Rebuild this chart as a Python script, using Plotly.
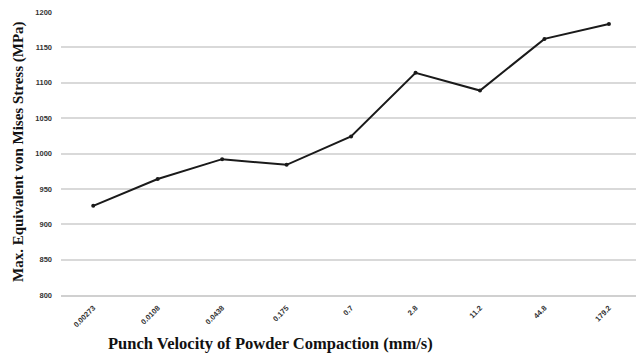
import plotly.graph_objects as go

# Punch velocity categories (mm/s) and peak equivalent stress (MPa)
velocity_labels = ["0.00273", "0.0108", "0.0438", "0.175", "0.7", "2.8", "11.2", "44.8", "179.2"]
max_stress = [926, 964, 992, 984, 1024, 1114, 1089, 1162, 1183]
y_ticks = [800, 850, 900, 950, 1000, 1050, 1100, 1150, 1200]

W, H = 636, 354
L, T, B = 61, 12, 59
plot_h = H - T - B

fig = go.Figure()
fig.add_trace(go.Scatter(
    x=list(range(len(velocity_labels))),
    y=max_stress,
    mode="lines+markers",
    line=dict(color="#1a1a1a", width=2),
    marker=dict(color="#1a1a1a", size=4),
    showlegend=False,
    hoverinfo="skip",
))

tick_font = dict(family="Liberation Sans", size=7.5, color="#333333", weight="bold")
title_font = dict(family="Liberation Serif", color="#111111", weight="bold")

fig.update_layout(
    width=W, height=H,
    margin=dict(l=L, r=0, t=T, b=B),
    paper_bgcolor="white",
    plot_bgcolor="white",
    xaxis=dict(
        tickmode="array",
        tickvals=list(range(len(velocity_labels))),
        ticktext=velocity_labels,
        range=[-0.5, 8.42],
        tickangle=-45,
        tickfont=tick_font,
        showgrid=False,
        zeroline=False,
        showline=True,
        linecolor="#d0d0d0",
        linewidth=1.5,
        ticks="",
        ticklabelstandoff=4,
    ),
    yaxis=dict(
        range=[800, 1200],
        tickmode="array",
        tickvals=y_ticks,
        ticktext=[str(v) for v in y_ticks],
        tickfont=tick_font,
        showgrid=True,
        gridcolor="#d9d9d9",
        gridwidth=1.5,
        zeroline=False,
        showline=False,
        ticks="",
        ticklabelstandoff=8,
    ),
    annotations=[
        dict(
            text="Max. Equivalent von Mises Stress (MPa)",
            xref="paper", yref="paper",
            x=(18 - L) / (W - L), y=(H - B - 152) / plot_h,
            xanchor="center", yanchor="middle",
            textangle=-90, showarrow=False,
            font=dict(size=15, **title_font),
        ),
        dict(
            text="Punch Velocity of Powder Compaction (mm/s)",
            xref="paper", yref="paper",
            x=(270 - L) / (W - L), y=-(343 - (H - B)) / plot_h,
            xanchor="center", yanchor="middle",
            showarrow=False,
            font=dict(size=16.5, **title_font),
        ),
    ],
)

fig.write_html("out.html")
